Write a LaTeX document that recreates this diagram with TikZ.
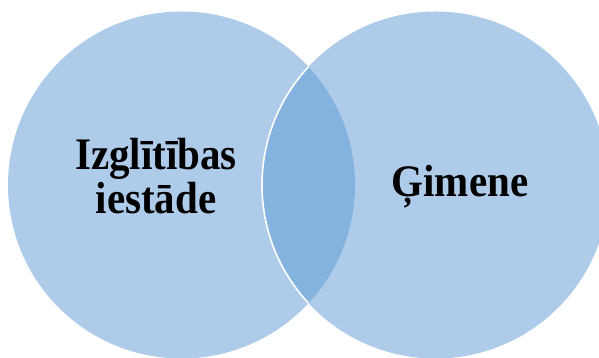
\documentclass[tikz,border=0pt]{standalone}
\usepackage{fontspec}
\setmainfont{Liberation Serif}
\definecolor{lightblue}{RGB}{174,204,234}
\definecolor{darkblue}{RGB}{133,179,223}
\tikzset{
  circ/.style={fill=lightblue, draw=none},
  label/.style={font=\fontsize{41}{39}\selectfont\bfseries, inner sep=0pt, text=black}
}
\begin{document}
\begin{tikzpicture}[x=1pt,y=1pt]
\useasboundingbox (0,0) rectangle (599,358);
\begin{scope}
\clip (0,0) rectangle (599,358);
\fill[circ] (181.5,173) circle (173.5);
\fill[circ] (435.5,173) circle (173.5);
\begin{scope}
\clip (181.5,173) circle (173.5);
\fill[darkblue] (435.5,173) circle (173.5);
\draw[white, line width=1.6pt] (435.5,173) circle (173.5);
\end{scope}
\end{scope}
\node[label] (edu) at (156,176) {\scalebox{1}[1.1]{\begin{tabular}{@{}c@{}}Izglītības\\iestāde\end{tabular}}};
\node[label, anchor=base] (fam) at (460,161) {\scalebox{1}[1.1]{Ģimene}};
\end{tikzpicture}
\end{document}
